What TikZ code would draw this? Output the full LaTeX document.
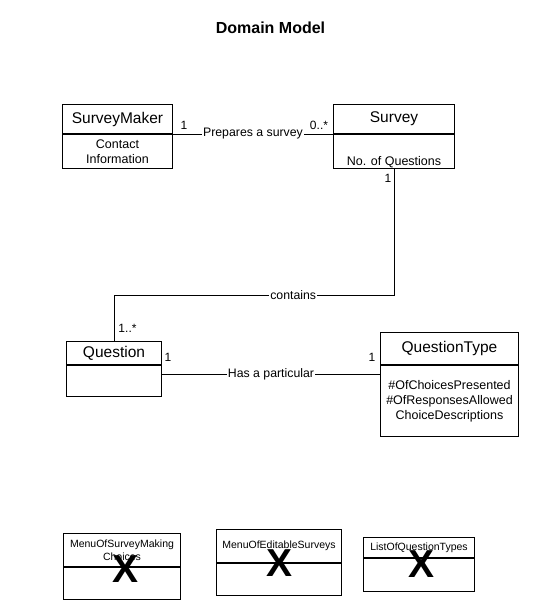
\documentclass[tikz,border=0pt]{standalone}
\usepackage{fontspec}
\setmainfont{Liberation Sans}
\usetikzlibrary{positioning}

\begin{document}
\begin{tikzpicture}[
    x=1pt, y=-1pt,
    line width=1pt,
    umlhead/.style={draw, inner sep=0pt, anchor=north west, font=\fontsize{15.5}{18}\selectfont},
    umlbody/.style={draw, inner sep=0pt, align=center, font=\fontsize{12.5}{15}\selectfont},
    smallhead/.style={draw, inner sep=0pt, anchor=north west, align=center, font=\fontsize{10.5}{13}\selectfont},
    mult/.style={inner sep=0pt, font=\fontsize{12}{14}\selectfont},
    assoc/.style={fill=white, inner sep=1pt, font=\fontsize{12.3}{14}\selectfont},
    xmark/.style={inner sep=0pt, font=\fontsize{39}{40}\selectfont\bfseries},
    heading/.style={inner sep=0pt, font=\fontsize{16}{18}\selectfont\bfseries}
]
    \useasboundingbox[fill=white] (0,0) rectangle (541,600);

    \node[heading] (title) at (270.5,28) {Domain Model};

    % classes
    \node[umlhead, minimum width=110pt, minimum height=29pt] (smhead) at (62,104) {SurveyMaker};
    \node[umlbody, minimum width=110pt, minimum height=34pt, below=0pt of smhead] (smbody) {Contact\\Information};

    \node[umlhead, minimum width=121pt, minimum height=29pt] (svhead) at (333,104) {Survey};
    \node[umlbody, minimum width=121pt, minimum height=34pt, text height=28pt, text depth=0pt, below=0pt of svhead] (svbody) {No. of Questions};

    \node[umlhead, minimum width=95pt, minimum height=23pt] (qhead) at (66,341) {Question};
    \node[umlbody, minimum width=95pt, minimum height=31pt, below=0pt of qhead] (qbody) {};

    \node[umlhead, minimum width=138pt, minimum height=32pt] (qthead) at (380,332) {QuestionType};
    \node[umlbody, minimum width=138pt, minimum height=71pt, below=0pt of qthead] (qtbody) {\#OfChoicesPresented\\\#OfResponsesAllowed\\ChoiceDescriptions};

    % associations
    \draw (smhead.south east) -- node[assoc] {Prepares a survey} (svhead.south west);
    \node[mult] (m1) at ([xshift=11pt, yshift=9pt]smhead.south east) {1};
    \node[mult] (m2) at ([xshift=-14pt, yshift=9pt]svhead.south west) {0..*};

    \draw (svbody.south) -- ++(0,126) -| node[assoc, pos=0.18] {contains} (qhead.north);
    \node[mult] (m3) at ([xshift=-6pt, yshift=-9pt]svbody.south) {1};
    \node[mult] (m4) at ([xshift=13.5pt, yshift=13pt]qhead.north) {1..*};

    \draw ([yshift=-9pt]qbody.north east) -- node[assoc] {Has a particular} ([yshift=-9pt]qtbody.north west);
    \node[mult] (m5) at ([xshift=6pt, yshift=8pt]qbody.north east) {1};
    \node[mult] (m6) at ([xshift=-8pt, yshift=8pt]qtbody.north west) {1};

    % crossed out boundary classes
    \node[smallhead, minimum width=117pt, minimum height=33pt] (menuhead) at (63,533) {MenuOfSurveyMaking\\Choices};
    \node[draw, inner sep=0pt, minimum width=117pt, minimum height=32pt, below=0pt of menuhead] (menubody) {};
    \node[xmark] (x1) at (126,569) {X};

    \node[smallhead, minimum width=125pt, minimum height=33pt] (edithead) at (216,529) {MenuOfEditableSurveys};
    \node[draw, inner sep=0pt, minimum width=125pt, minimum height=32pt, below=0pt of edithead] (editbody) {};
    \node[xmark] (x2) at (280,563) {X};

    \node[smallhead, minimum width=111pt, minimum height=20pt] (listhead) at (363,537) {ListOfQuestionTypes};
    \node[draw, inner sep=0pt, minimum width=111pt, minimum height=33pt, below=0pt of listhead] (listbody) {};
    \node[xmark] (x3) at (422,564) {X};
\end{tikzpicture}
\end{document}
